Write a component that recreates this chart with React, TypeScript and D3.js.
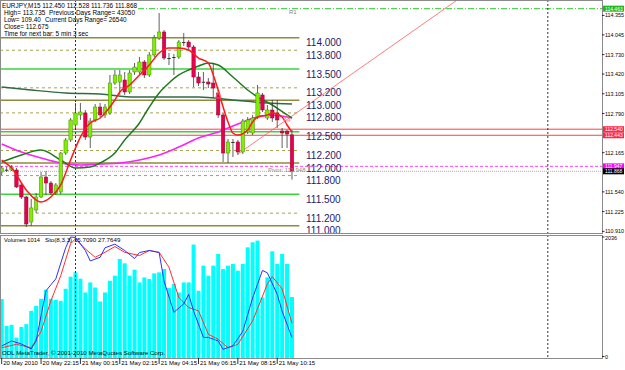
import React from 'react';
import * as d3 from 'd3';

const W = 625;
const H = 370;

// ---- candles (bar index 0 = 20 May 20:15, M15) ----
const opens = [111.857, 111.889, 111.889, 111.889, 111.650, 111.458, 111.059, 111.251, 111.458, 111.777,
  111.681, 111.522, 111.538, 112.160, 112.368, 112.607, 112.767, 112.798, 112.415, 112.687,
  112.894, 112.767, 112.798, 113.277, 113.293, 113.325, 113.134, 113.453, 113.453, 113.612,
  113.405, 113.724, 113.995, 114.091, 113.676, 113.692, 113.692, 113.931, 113.931, 113.852,
  113.373, 113.293, 113.293, 113.277, 113.118, 112.767, 112.160, 112.336, 112.336, 112.176,
  112.495, 112.479, 112.735, 113.086, 112.719, 112.846, 112.798, 112.511, 112.511, 112.450];
const highs = [111.953, 111.937, 111.969, 111.921, 111.665, 111.474, 111.426, 111.522, 111.857, 111.873,
  111.713, 111.681, 112.176, 112.400, 112.719, 112.958, 112.958, 112.846, 112.719, 112.942,
  112.958, 112.942, 113.405, 113.485, 113.485, 113.453, 113.485, 113.596, 113.692, 113.644,
  113.772, 114.043, 114.394, 114.123, 113.756, 113.740, 113.963, 114.075, 113.963, 113.883,
  113.453, 113.453, 113.357, 113.596, 113.165, 112.798, 112.384, 112.384, 112.368, 112.703,
  112.735, 112.767, 113.245, 113.118, 112.926, 113.006, 113.006, 112.559, 112.527, 112.528];
const lows = [111.809, 111.857, 111.873, 111.602, 111.426, 110.979, 110.995, 111.203, 111.442, 111.490,
  111.490, 111.490, 111.506, 112.128, 112.336, 112.559, 112.687, 112.368, 112.240, 112.655,
  112.735, 112.719, 112.767, 113.245, 113.086, 113.086, 113.102, 113.405, 113.421, 113.357,
  113.373, 113.692, 113.963, 113.644, 113.564, 113.405, 113.660, 113.868, 113.804, 113.213,
  113.229, 113.165, 113.197, 113.038, 112.719, 112.017, 112.001, 112.096, 112.128, 112.144,
  112.463, 112.447, 112.703, 112.814, 112.687, 112.655, 112.559, 112.240, 112.240, 111.736];
const closes = [111.921, 111.880, 111.937, 111.618, 111.458, 111.027, 111.283, 111.458, 111.777, 111.681,
  111.522, 111.650, 112.160, 112.368, 112.687, 112.798, 112.814, 112.415, 112.671, 112.894,
  112.767, 112.894, 113.277, 113.405, 113.405, 113.134, 113.437, 113.532, 113.612, 113.405,
  113.724, 113.995, 114.091, 113.676, 113.660, 113.676, 113.931, 113.915, 113.852, 113.373,
  113.277, 113.285, 113.261, 113.197, 112.767, 112.160, 112.336, 112.320, 112.176, 112.671,
  112.687, 112.719, 113.118, 112.846, 112.846, 112.719, 112.687, 112.479, 112.463, 111.868];

// ---- volumes ----
const volumes = [978, 522, 539, 321, 504, 551, 778, 864, 983, 1137,
  983, 966, 949, 1154, 1359, 1433, 1325, 1091, 1262, 1176,
  937, 1091, 1291, 1377, 1662, 1587, 1377, 1479, 1262, 1347,
  1320, 1416, 1433, 1491, 1166, 1235, 1091, 1262, 1262, 1907,
  1120, 1548, 1377, 1548, 1748, 1491, 1548, 1577, 1462, 1577,
  1860, 1946, 1975, 1005, 1347, 1792, 1577, 1748, 1577, 1014];

// ---- moving averages: [bar, price] ----
const maFast: [number, number][] = [[0, 112.048], [2, 111.921], [5, 111.570], [8, 111.378], [10, 111.458], [12, 111.650],
  [14, 112.048], [16, 112.415], [18, 112.639], [20, 112.719], [21, 112.798], [23, 113.006], [24, 113.134], [26, 113.245],
  [28, 113.405], [30, 113.564], [32, 113.756], [34, 113.836], [36, 113.836], [38, 113.804], [40, 113.676], [42, 113.596],
  [43, 113.405], [44, 113.165], [45, 112.894], [46, 112.655], [47, 112.479], [48, 112.447], [50, 112.527], [51, 112.655],
  [52, 112.735], [54, 112.767], [55, 112.798], [57, 112.735], [58, 112.607], [59, 112.495]];
const maMid: [number, number][] = [[0, 112.017], [4, 112.128], [8, 112.208], [12, 112.048], [15, 111.921], [18, 111.937],
  [20, 112.001], [23, 112.160], [25, 112.368], [28, 112.639], [30, 112.894], [32, 113.118], [34, 113.277], [36, 113.405],
  [38, 113.485], [40, 113.548], [42, 113.596], [44, 113.564], [47, 113.373], [50, 113.165], [52, 113.054], [55, 112.926],
  [58, 112.767], [59, 112.719]];
const maSlow: [number, number][] = [[0, 112.304], [4, 112.176], [8, 112.080], [12, 112.001], [16, 111.969], [20, 111.985],
  [24, 112.001], [28, 112.048], [32, 112.128], [36, 112.256], [40, 112.400], [44, 112.495], [48, 112.623], [52, 112.735],
  [55, 112.767], [58, 112.735], [59, 112.719]];
const maLong: [number, number][] = [[0, 113.213], [6, 113.165], [13, 113.118], [20, 113.102], [27, 113.054], [34, 113.054],
  [40, 113.054], [47, 113.006], [54, 112.958], [59, 112.942]];

// ---- stochastic (8,3,3) ----
const stochMain: [number, number][] = [[0, 8.8], [2, 13], [4, 10.5], [6, 6.3], [7, 13], [9, 55], [11, 65], [13, 91], [14, 100],
  [15, 99.6], [17, 88.7], [18, 80], [20, 83], [21, 91], [23, 94], [25, 88.7], [27, 82], [28, 87], [30, 88.7], [32, 87],
  [33, 63], [35, 37], [37, 44], [38, 52], [39, 38], [41, 16], [42, 16], [44, 13], [45, 6], [47, 9], [49, 21], [51, 49],
  [53, 72], [54, 70], [56, 52], [57, 38], [59, 15.709]];
const stochSignal: [number, number][] = [[0, 7.3], [3, 10.2], [6, 7.3], [8, 21], [10, 46.6], [12, 67.6], [14, 94.3], [15, 98.5],
  [17, 90], [19, 83], [21, 87.2], [23, 92], [25, 87.2], [28, 84.5], [30, 88.7], [32, 87.2], [34, 74.6], [36, 49.4],
  [38, 41], [40, 38.2], [42, 18.6], [44, 14.4], [46, 7.3], [48, 10.2], [51, 29.8], [54, 60.7], [55, 66.8], [57, 56.5],
  [59, 27.765]];

// ---- levels ----
const roundLevels = [114, 113.8, 113.5, 113.2, 113, 112.8, 112.5, 112.2, 112, 111.8, 111.5, 111.2, 111];
const roundKinds = ['major', 'minor', 'half', 'minor', 'major', 'minor', 'half', 'minor', 'major', 'minor', 'half', 'minor', 'major'];
const priceTicks = [114.355, 114.045, 113.730, 113.420, 113.105, 112.790, 112.165, 111.540, 111.225, 110.910];
const priceBoxes = [
  { v: 114.463, bg: '#1fb81f' },
  { v: 112.540, bg: '#ff2a4a' },
  { v: 112.443, bg: '#ff2a4a' },
  { v: 111.947, bg: '#ff00ff' },
  { v: 111.868, bg: '#000000' },
];
const timeTickBars = [0, 8, 16, 24, 32, 40, 48, 56];
const timeLabels = ['20 May 2010', '20 May 22:15', '21 May 00:15', '21 May 02:15', '21 May 04:15', '21 May 06:15', '21 May 08:15', '21 May 10:15'];
const daySeparators = [15, 111];
const trendPts: [number, number][] = [[48, 112.144], [81, 113.963]];
const markerPts: [number, number][] = [[44, 113.086], [58, 112.719]];

// header comment lines: [text, x, baseline y, forced width (0 = natural)]
const headerTexts: [string, number, number, number][] = [
  ['EURJPY,M15  112.450 112.528 111.736 111.868', 2, 7.8, 135],
  ['High= 113.735', 4, 14.6, 0],
  ['Previous Days Range= 43050', 49, 14.6, 86],
  ['Low= 109.40', 4, 21.6, 0],
  ['Current Days Range= 26540', 45, 21.6, 0],
  ['Close= 112.675', 4, 28.8, 0],
  ['Time for next bar: 5 min 3 sec', 4, 36, 0],
];

const FONT = '"Liberation Sans", Arial, sans-serif';

export default function App() {
  const x = d3.scaleLinear().domain([0, 100]).range([1.7, 1.7 + 100 * 4.92]);
  const y = d3.scaleLinear().domain([114, 111]).range([37.7, 225.7]);
  const yVol = d3.scaleLinear().domain([0, 2036]).range([356.5, 237]);
  const ySto = d3.scaleLinear().domain([0, 100]).range([356.5, 237]);

  const RIGHT = 602;
  const MAIN_B = 233;
  const VOL_T = 235;
  const VOL_B = 358;

  const priceLine = d3.line<[number, number]>().x(d => x(d[0])).y(d => y(d[1])).curve(d3.curveMonotoneX);
  const stoLine = d3.line<[number, number]>().x(d => x(d[0])).y(d => ySto(d[1])).curve(d3.curveLinear);

  const levelEnd = x(60.5);
  const slope = (trendPts[1][1] - trendPts[0][1]) / (trendPts[1][0] - trendPts[0][0]);
  const trendEndBar = 100;
  const trendEnd = trendPts[0][1] + slope * (trendEndBar - trendPts[0][0]);

  const bw = 3.4;

  return (
    <svg width={W} height={H} style={{ position: 'fixed', left: 0, top: 0, background: '#fff' }} fontFamily={FONT}>
      <defs>
        <clipPath id="mainClip"><rect x={0} y={0} width={RIGHT} height={MAIN_B} /></clipPath>
        <clipPath id="volClip"><rect x={0} y={VOL_T} width={RIGHT} height={VOL_B - VOL_T} /></clipPath>
      </defs>
      <rect x={0} y={0} width={W} height={H} fill="#fff" />

      {/* ===== main panel ===== */}
      <g clipPath="url(#mainClip)">
        <line x1={138} x2={RIGHT} y1={y(114.463)} y2={y(114.463)} stroke="#2ecc2e" strokeWidth={1} strokeDasharray="6,2,1,2" />
        {roundLevels.map((v, i) => {
          const k = roundKinds[i];
          const col = k === 'half' ? '#3ad43a' : k === 'major' ? '#8f8b3a' : '#a7a449';
          return (
            <line key={'lv' + i} x1={0} x2={levelEnd} y1={y(v)} y2={y(v)} stroke={col}
              strokeWidth={k === 'minor' ? 1 : 1.5} strokeDasharray={k === 'minor' ? '3,3' : undefined} />
          );
        })}
        <line x1={0} x2={RIGHT} y1={y(112.540)} y2={y(112.540)} stroke="#ff4040" strokeWidth={1} />
        <line x1={0} x2={RIGHT} y1={y(112.443)} y2={y(112.443)} stroke="#ff4040" strokeWidth={1} />
        <line x1={0} x2={RIGHT} y1={y(111.947)} y2={y(111.947)} stroke="#ff40ff" strokeWidth={1} strokeDasharray="3,2" />
        <line x1={0} x2={RIGHT} y1={y(111.868)} y2={y(111.868)} stroke="#b0b0b0" strokeWidth={1} strokeDasharray="1,1" />
        {daySeparators.map((b, i) => (
          <line key={'ds' + i} x1={x(b)} x2={x(b)} y1={0} y2={MAIN_B} stroke="#333" strokeWidth={1} strokeDasharray="2,2" />
        ))}
        <line x1={x(trendPts[0][0])} y1={y(trendPts[0][1])} x2={x(trendEndBar)} y2={y(trendEnd)} stroke="#ff5a5a" strokeWidth={0.8} />
        <path d={priceLine(maLong) || ''} fill="none" stroke="#2f6a45" strokeWidth={1.5} />
        <path d={priceLine(maSlow) || ''} fill="none" stroke="#ff20ff" strokeWidth={1.6} />
        <path d={priceLine(maMid) || ''} fill="none" stroke="#1f7a1f" strokeWidth={1.5} />
        {opens.map((o, i) => {
          const c = closes[i];
          const cx = x(i);
          const top = y(Math.max(o, c));
          const bot = y(Math.min(o, c));
          const bull = c > o;
          const doji = Math.abs(bot - top) < 1.2;
          return (
            <g key={'c' + i}>
              <line x1={cx} x2={cx} y1={y(highs[i])} y2={y(lows[i])} stroke="#3a3a3a" strokeWidth={0.8} />
              {doji ? (
                <line x1={cx - bw / 2} x2={cx + bw / 2} y1={(top + bot) / 2} y2={(top + bot) / 2} stroke="#333" strokeWidth={1} />
              ) : (
                <rect x={cx - bw / 2} y={top} width={bw} height={bot - top}
                  fill={bull ? '#7cf000' : '#e8004e'} stroke={bull ? '#4a8a00' : '#9a0030'} strokeWidth={0.5} />
              )}
            </g>
          );
        })}
        <path d={priceLine(maFast) || ''} fill="none" stroke="#ff1a1a" strokeWidth={1.5} />
        {markerPts.map((m, i) => {
          const mx = x(m[0]);
          const my = y(m[1]);
          return (
            <path key={'mk' + i} d={`M${mx - 3},${my + 3} L${mx},${my - 3} L${mx + 3},${my + 3} Z`} fill="none" stroke="#ff7070" strokeWidth={0.8} />
          );
        })}
        <text x={289} y={14} fontSize={6} fill="#808080">R1</text>
        <text x={268} y={172} fontSize={6} fill="#909090">Pivot: 111.948</text>
        {roundLevels.map((v, i) => (
          <text key={'lt' + i} x={306} y={y(v) + 5} fontSize={10} fill="#1c1c6e" dominantBaseline="central">{v.toFixed(3)}</text>
        ))}
      </g>

      {/* header */}
      <g fontSize={6.4} fill="#000">
        {headerTexts.map((t, i) => (
          t[3] > 0 ? (
            <text key={'h' + i} x={t[1]} y={t[2]} textLength={t[3]} lengthAdjust="spacingAndGlyphs">{t[0]}</text>
          ) : (
            <text key={'h' + i} x={t[1]} y={t[2]}>{t[0]}</text>
          )
        ))}
      </g>

      {/* ===== volume / stochastic panel ===== */}
      <g clipPath="url(#volClip)">
        {volumes.map((v, i) => (
          <rect key={'v' + i} x={x(i) - 2} y={yVol(v)} width={4} height={yVol(0) - yVol(v) + 2} fill="#00ffff" />
        ))}
        {daySeparators.map((b, i) => (
          <line key={'ds2' + i} x1={x(b)} x2={x(b)} y1={VOL_T} y2={VOL_B} stroke="#333" strokeWidth={1} strokeDasharray="2,2" />
        ))}
        <path d={stoLine(stochSignal) || ''} fill="none" stroke="#ff3030" strokeWidth={1} />
        <path d={stoLine(stochMain) || ''} fill="none" stroke="#3030ff" strokeWidth={1} />
      </g>
      <text x={4} y={241.5} fontSize={6.2} fill="#000" textLength={36} lengthAdjust="spacingAndGlyphs">Volumes 1014</text>
      <text x={45} y={241.5} fontSize={6.2} fill="#000">Sto(8,3,3) 15.7090 27.7649</text>
      <text x={2} y={355} fontSize={6.2} fill="#000" textLength={163} lengthAdjust="spacingAndGlyphs">ODL MetaTrader, © 2001-2010 MetaQuotes Software Corp.</text>

      {/* frames */}
      <rect x={0.5} y={0.5} width={RIGHT} height={MAIN_B} fill="none" stroke="#8a8a8a" strokeWidth={1} />
      <rect x={0.5} y={VOL_T + 0.5} width={RIGHT} height={VOL_B - VOL_T} fill="none" stroke="#8a8a8a" strokeWidth={1} />

      {/* right price axis */}
      <g fontSize={5.4} fill="#000">
        {priceTicks.map((v, i) => (
          <g key={'pt' + i}>
            <line x1={RIGHT} x2={RIGHT + 2.5} y1={y(v)} y2={y(v)} stroke="#000" strokeWidth={0.8} />
            <text x={RIGHT + 3} y={y(v)} dominantBaseline="central">{v.toFixed(3)}</text>
          </g>
        ))}
        {priceBoxes.map((b, i) => (
          <g key={'pb' + i}>
            <rect x={RIGHT + 1} y={y(b.v) - 3} width={21} height={6} fill={b.bg} />
            <text x={RIGHT + 3} y={y(b.v)} dominantBaseline="central" fill="#fff" fontSize={5}>{b.v.toFixed(3)}</text>
          </g>
        ))}
        <line x1={RIGHT} x2={RIGHT + 2.5} y1={yVol(2036)} y2={yVol(2036)} stroke="#000" strokeWidth={0.8} />
        <text x={RIGHT + 3} y={yVol(2036) + 1} dominantBaseline="central">2036</text>
        <line x1={RIGHT} x2={RIGHT + 2.5} y1={yVol(0)} y2={yVol(0)} stroke="#000" strokeWidth={0.8} />
        <text x={RIGHT + 3} y={yVol(0)} dominantBaseline="central">0</text>
      </g>

      {/* time axis */}
      <g fontSize={6} fill="#000">
        {timeTickBars.map((b, i) => (
          <g key={'tt' + i}>
            <line x1={x(b)} x2={x(b)} y1={VOL_B} y2={VOL_B + 6} stroke="#000" strokeWidth={0.8} />
            <text x={x(b) + 1.5} y={365}>{timeLabels[i]}</text>
          </g>
        ))}
      </g>
    </svg>
  );
}
